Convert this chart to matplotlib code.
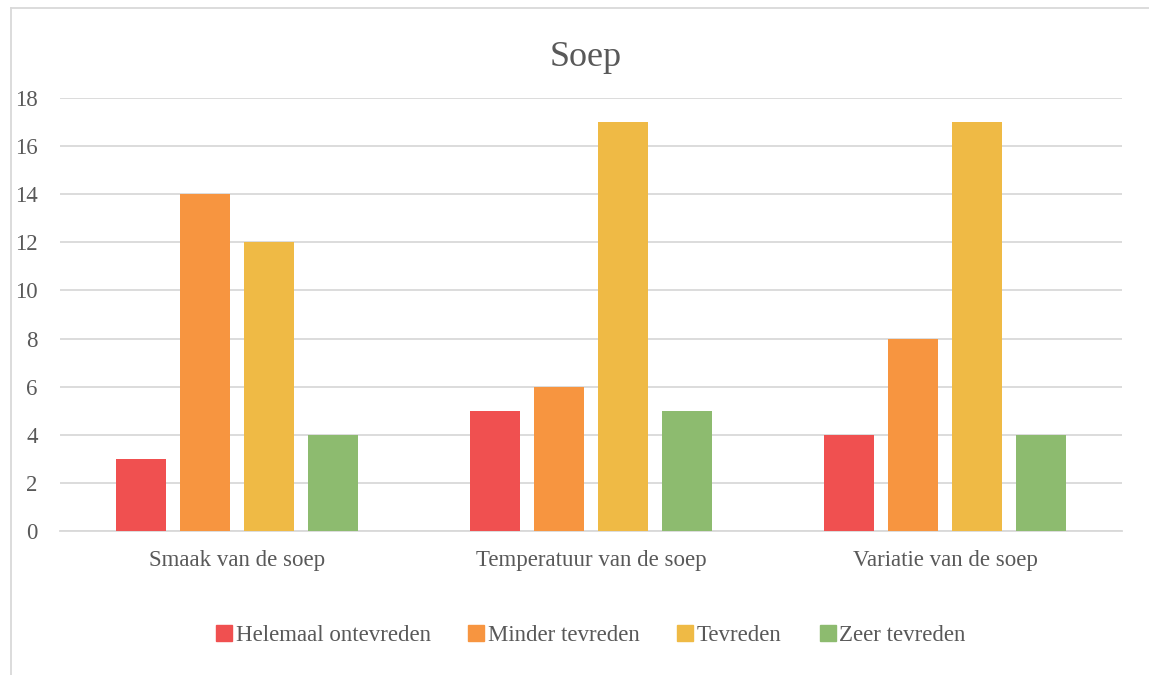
import numpy as np
import matplotlib.pyplot as plt
from matplotlib.lines import Line2D

# survey results per question
categories = ["Smaak van de soep", "Temperatuur van de soep", "Variatie van de soep"]
series = ["Helemaal ontevreden", "Minder tevreden", "Tevreden", "Zeer tevreden"]
helemaal_ontevreden = [3, 5, 4]
minder_tevreden = [14, 6, 8]
tevreden = [12, 17, 17]
zeer_tevreden = [4, 5, 4]
yticks = [0, 2, 4, 6, 8, 10, 12, 14, 16, 18]

colors = ["#F05050", "#F79540", "#EFBA45", "#8DBB6F"]
text_color = "#595959"
grid_color = "#D9D9D9"

plt.rcParams["font.family"] = ["Liberation Serif", "DejaVu Serif"]

fig = plt.figure(figsize=(11.49, 6.75), dpi=100)
ax = fig.add_axes([60 / 1149, 144 / 675, 1062 / 1149, 433 / 675])

values = [helemaal_ontevreden, minder_tevreden, tevreden, zeer_tevreden]
x = np.arange(len(categories))
width = 0.141
step = 0.181

for i, (name, vals) in enumerate(zip(series, values)):
    offset = (i - 1.5) * step
    ax.bar(x + offset, vals, width, color=colors[i], label=name, zorder=3)

ax.set_xlim(-0.5, 2.5)
ax.set_ylim(0, 18)
ax.set_yticks(yticks)
ax.set_xticks(x)
ax.set_xticklabels(categories)
ax.yaxis.grid(True, color=grid_color, linewidth=1.3, zorder=0)
ax.set_axisbelow(True)

for side in ["top", "right", "left"]:
    ax.spines[side].set_visible(False)
ax.spines["bottom"].set_color(grid_color)
ax.spines["bottom"].set_linewidth(1.3)

ax.tick_params(axis="both", length=0, labelsize=16.5, colors=text_color)
ax.tick_params(axis="y", pad=16)
ax.tick_params(axis="x", pad=14)

fig.text(586 / 1149, 1 - 57 / 675, "Soep", ha="center", va="center",
         fontsize=26, color=text_color)

handles = [Line2D([0], [0], marker="s", linestyle="", markersize=11,
                  markerfacecolor=c, markeredgecolor=c) for c in colors]
fig.legend(handles, series, loc="center", bbox_to_anchor=(589 / 1149, 1 - 635 / 675),
           ncol=4, frameon=False, fontsize=16.5, labelcolor=text_color,
           handletextpad=0.0, columnspacing=1.5, handlelength=1.0)

# outer chart border (top and left edge)
fig.add_artist(Line2D([11 / 1149, 1], [1 - 8 / 675, 1 - 8 / 675],
                      transform=fig.transFigure, color=grid_color, linewidth=1.3))
fig.add_artist(Line2D([11 / 1149, 11 / 1149], [0, 1 - 8 / 675],
                      transform=fig.transFigure, color=grid_color, linewidth=1.3))

fig.savefig("out.png", dpi=100)
